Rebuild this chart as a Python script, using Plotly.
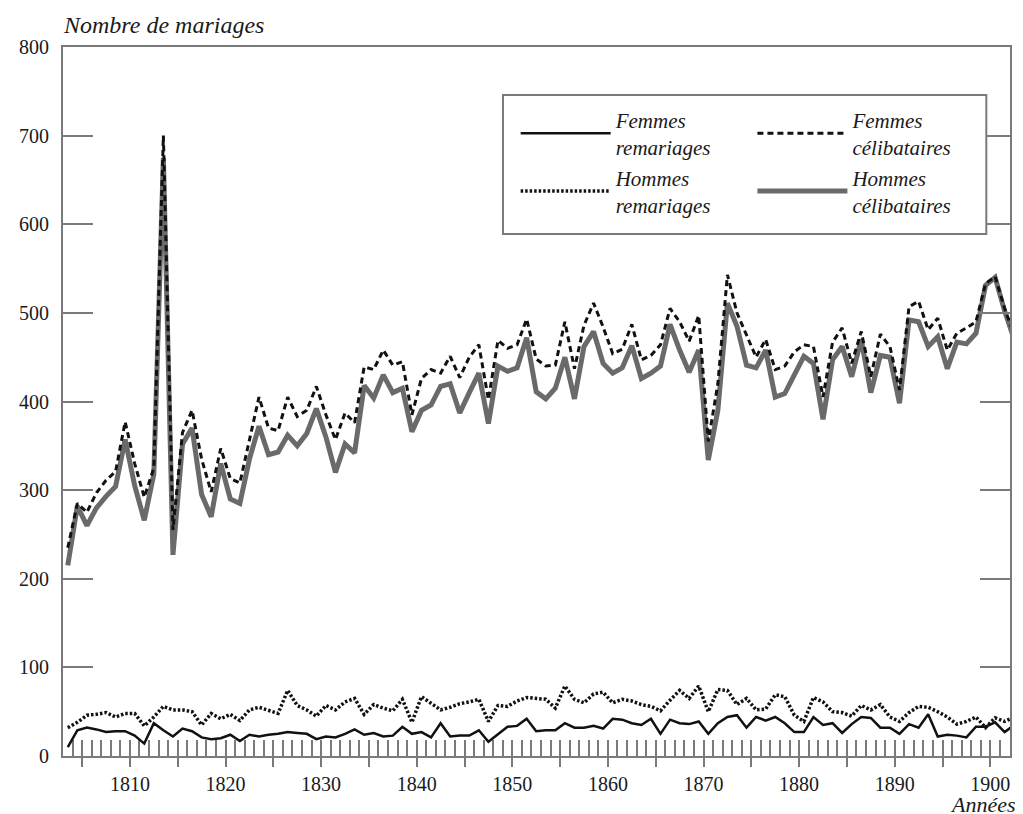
import plotly.graph_objects as go

# ---- data ----
years = list(range(1803, 1903))

femmes_remariages = [10, 29, 32, 30, 27, 28, 28, 23, 14, 37,
                     29, 22, 31, 28, 21, 19, 20, 24, 17, 24,
                     22, 24, 25, 27, 26, 25, 19, 22, 21, 25,
                     30, 24, 26, 22, 23, 33, 25, 27, 21, 37,
                     22, 23, 23, 29, 16, 25, 33, 34, 42, 28,
                     29, 29, 37, 32, 32, 34, 31, 42, 41, 37,
                     35, 42, 25, 41, 37, 36, 39, 25, 37, 44,
                     46, 32, 44, 40, 44, 37, 27, 27, 44, 35,
                     37, 26, 36, 44, 43, 32, 32, 25, 36, 32,
                     47, 22, 24, 23, 21, 33, 33, 38, 27, 35]

hommes_remariages = [32, 38, 46, 47, 49, 44, 48, 48, 34, 44,
                     56, 52, 52, 50, 35, 48, 42, 47, 40, 52,
                     55, 52, 48, 74, 57, 52, 45, 57, 52, 61,
                     65, 47, 58, 54, 51, 64, 38, 67, 60, 52,
                     55, 59, 61, 64, 39, 57, 56, 62, 66, 65,
                     64, 54, 79, 64, 60, 70, 72, 60, 64, 62,
                     58, 56, 51, 63, 74, 65, 79, 50, 75, 74,
                     58, 65, 52, 53, 69, 67, 46, 39, 66, 61,
                     50, 49, 45, 57, 52, 58, 44, 39, 49, 56,
                     55, 50, 44, 36, 39, 44, 32, 43, 39, 44]

femmes_celibataires = [235, 285, 275, 297, 311, 321, 377, 330, 292, 325,
                       700, 255, 365, 390, 335, 298, 347, 313, 308, 357,
                       405, 370, 367, 405, 383, 390, 417, 385, 357, 387,
                       376, 439, 436, 458, 441, 445, 385, 426, 436, 432,
                       451, 427, 450, 464, 402, 469, 460, 464, 493, 448,
                       440, 441, 490, 437, 486, 511, 484, 454, 459, 487,
                       447, 452, 464, 505, 490, 468, 497, 355, 420, 543,
                       500, 475, 450, 470, 436, 440, 456, 464, 462, 405,
                       467, 483, 443, 479, 428, 476, 462, 413, 507, 513,
                       481, 494, 458, 477, 483, 490, 533, 541, 505, 475]

hommes_celibataires = [215, 282, 260, 280, 293, 304, 357, 305, 266, 318,
                       675, 227, 352, 370, 295, 270, 330, 290, 285, 335,
                       372, 340, 343, 362, 350, 364, 392, 360, 320, 352,
                       342, 418, 404, 430, 410, 415, 366, 390, 396, 417,
                       420, 387, 410, 432, 375, 440, 434, 438, 472, 411,
                       403, 415, 450, 403, 462, 479, 443, 432, 438, 463,
                       426, 432, 440, 487, 458, 433, 458, 334, 390, 511,
                       485, 441, 438, 458, 405, 409, 430, 451, 443, 380,
                       447, 462, 428, 470, 410, 452, 450, 398, 492, 490,
                       462, 473, 437, 467, 465, 477, 531, 540, 502, 470]

y_tick_values = [0, 100, 200, 300, 400, 500, 600, 700, 800]
y_tick_labels = [str(v) for v in y_tick_values]
grid_values = [200, 400, 600]
x_major_ticks = list(range(1805, 1901, 5))
x_tick_labels = [str(v) if v % 10 == 0 else "" for v in x_major_ticks]

# annual totals are plotted at mid-year
x_mid = [y + 0.5 for y in years]

FONT = "Liberation Serif"
AXIS = "#7a7a7a"
INK = "#1a1a1a"
LEG_FONT = dict(family=FONT, size=21, style="italic", color=INK)
X_RANGE = [1803, 1902.06]

fig = go.Figure()

fig.add_trace(go.Scatter(
    x=x_mid, y=hommes_celibataires, mode="lines",
    name="Hommes<br>célibataires", legend="legend2",
    line=dict(color="#6a6a6a", width=5)))
fig.add_trace(go.Scatter(
    x=x_mid, y=femmes_celibataires, mode="lines",
    name="Femmes<br>célibataires", legend="legend2", legendrank=1,
    line=dict(color="#111111", width=3, dash="6px,4px")))
fig.add_trace(go.Scatter(
    x=x_mid, y=hommes_remariages, mode="lines",
    name="Hommes<br>remariages", legend="legend",
    line=dict(color="#111111", width=3.5, dash="2.5px,2px")))
# drawn on the overlaying yearly-tick axis (same range) so that axis is rendered
fig.add_trace(go.Scatter(
    x=x_mid, y=femmes_remariages, mode="lines", xaxis="x2",
    name="Femmes<br>remariages", legend="legend", legendrank=1,
    line=dict(color="#111111", width=2.5)))

legend_common = dict(
    orientation="v", yanchor="middle", xanchor="left",
    itemwidth=90, font=LEG_FONT, traceorder="normal",
    bgcolor="rgba(0,0,0,0)", borderwidth=0,
)

fig.update_layout(
    width=1015, height=806,
    margin=dict(l=44, r=11, t=39, b=58),
    paper_bgcolor="white", plot_bgcolor="white",
    font=dict(family=FONT, size=20, color=INK),
    showlegend=True,
    legend=dict(x=0.478, y=0.837, **legend_common),
    legend2=dict(x=0.728, y=0.837, **legend_common),
    xaxis=dict(
        range=X_RANGE, tickmode="array",
        tickvals=x_major_ticks, ticktext=x_tick_labels,
        ticks="outside", ticklen=9, tickwidth=1.5, tickcolor=AXIS,
        showline=True, linecolor=AXIS, linewidth=2, mirror=True,
        showgrid=False, zeroline=False,
        tickfont=dict(family=FONT, size=20, color=INK),
    ),
    xaxis2=dict(
        range=X_RANGE, overlaying="x", anchor="y", side="bottom",
        tickmode="linear", tick0=1803, dtick=1, layer="below traces",
        ticks="inside", ticklen=16, tickwidth=1.5, tickcolor=AXIS,
        showticklabels=False, showgrid=False, zeroline=False, showline=False,
    ),
    yaxis=dict(
        range=[0, 800], tickmode="array",
        tickvals=y_tick_values, ticktext=y_tick_labels,
        ticks="inside", ticklen=30, tickwidth=1.5, tickcolor=AXIS,
        showline=True, linecolor=AXIS, linewidth=2, mirror="ticks",
        showgrid=False, zeroline=False, ticklabelstandoff=8,
        tickfont=dict(family=FONT, size=20, color=INK),
    ),
    yaxis2=dict(
        range=[0, 800], overlaying="y", anchor="x", side="left",
        tickmode="array", tickvals=grid_values,
        showgrid=True, gridcolor="#808080", gridwidth=1.5,
        ticks="", showticklabels=False, zeroline=False, showline=False,
    ),
    shapes=[
        dict(type="rect", xref="paper", yref="paper",
             x0=0.4646, x1=0.975, y0=0.7362, y1=0.9323,
             fillcolor="white", line=dict(color=AXIS, width=2), layer="above"),
    ],
    annotations=[
        dict(text="Nombre de mariages", x=-0.002, y=1.031, xref="paper", yref="paper",
             xanchor="left", yanchor="middle", showarrow=False,
             font=dict(family=FONT, size=24, style="italic", color=INK)),
        dict(text="Années", x=1.0083, y=-0.068, xref="paper", yref="paper",
             xanchor="right", yanchor="middle", showarrow=False,
             font=dict(family=FONT, size=22, style="italic", color=INK)),
    ],
)

fig.write_html("out.html")
